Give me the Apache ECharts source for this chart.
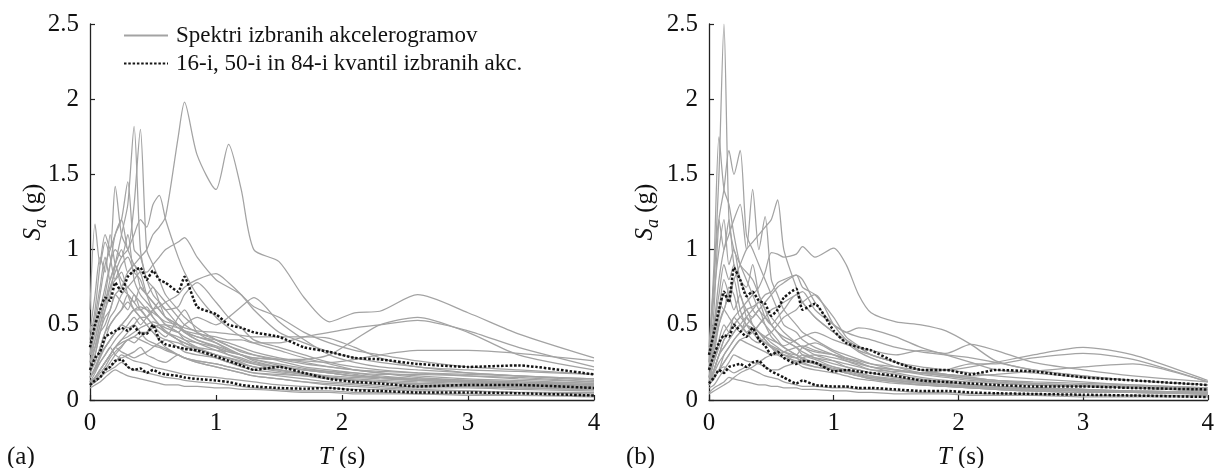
<!DOCTYPE html>
<html><head><meta charset="utf-8">
<script src="https://cdn.jsdelivr.net/npm/echarts@6/dist/echarts.min.js"></script>
<style>html,body{margin:0;padding:0;background:#fff;} #c{width:1217px;height:468px;}</style>
</head><body><div id="c"></div>
<script>
// Period grid (s)
const T = [0,0.04,0.08,0.12,0.16,0.2,0.25,0.3,0.35,0.4,0.45,0.5,0.55,0.6,0.7,0.75,0.85,1.0,1.1,1.2,1.3,1.5,1.7,1.9,2.1,2.3,2.6,3.0,3.4,4.0];
const xTicks = [0,1,2,3,4];
const yTicks = [0,0.5,1,1.5,2,2.5];

// Panel (a) spectra
const a01=[0.30,0.35,0.45,0.50,0.60,0.70,0.75,0.85,0.90,0.95,1.00,1.10,1.15,1.22,1.75,1.98,1.63,1.40,1.70,1.40,1.00,0.92,0.68,0.52,0.58,0.59,0.70,0.58,0.44,0.28];
const a02=[0.25,0.35,0.50,0.60,0.70,0.90,1.10,1.30,1.82,1.00,0.80,0.70,0.65,0.60,0.50,0.45,0.40,0.35,0.30,0.27,0.24,0.20,0.17,0.15,0.13,0.12,0.10,0.09,0.08,0.07];
const a03=[0.30,0.40,0.55,0.70,0.90,1.10,1.20,1.00,1.30,1.80,1.00,0.90,0.80,0.70,0.60,0.55,0.48,0.40,0.36,0.33,0.30,0.26,0.22,0.20,0.18,0.16,0.14,0.12,0.10,0.08];
const a04=[0.40,0.60,0.90,1.10,1.00,1.42,1.10,1.00,0.90,0.85,0.70,0.60,0.55,0.50,0.45,0.40,0.35,0.30,0.28,0.25,0.22,0.20,0.17,0.15,0.13,0.12,0.10,0.09,0.08,0.07];
const a05=[0.20,0.30,0.45,0.60,0.75,0.85,0.95,1.00,1.10,1.20,1.15,1.30,1.36,1.20,0.95,0.85,0.70,0.55,0.48,0.42,0.38,0.33,0.28,0.24,0.20,0.18,0.15,0.13,0.11,0.09];
const a06=[0.60,1.17,0.90,1.05,0.95,0.80,0.85,0.70,0.60,0.55,0.50,0.45,0.40,0.35,0.30,0.28,0.25,0.22,0.20,0.18,0.16,0.14,0.12,0.10,0.09,0.08,0.07,0.06,0.05,0.04];
const a07=[0.20,0.25,0.35,0.45,0.55,0.60,0.70,0.75,0.80,0.85,0.85,0.90,0.95,1.00,1.05,1.08,0.95,0.80,0.75,0.70,0.62,0.55,0.45,0.38,0.33,0.30,0.26,0.22,0.20,0.17];
const a08=[0.15,0.20,0.25,0.30,0.35,0.40,0.45,0.50,0.55,0.50,0.55,0.60,0.62,0.65,0.70,0.75,0.80,0.84,0.78,0.70,0.60,0.45,0.38,0.32,0.28,0.25,0.22,0.18,0.16,0.13];
const a09=[0.12,0.15,0.20,0.25,0.30,0.35,0.40,0.42,0.45,0.48,0.50,0.52,0.50,0.48,0.45,0.50,0.55,0.50,0.55,0.62,0.68,0.52,0.40,0.30,0.25,0.22,0.20,0.18,0.16,0.14];
const a10=[0.10,0.15,0.20,0.25,0.30,0.35,0.38,0.40,0.42,0.45,0.45,0.48,0.50,0.50,0.48,0.46,0.44,0.42,0.40,0.40,0.38,0.38,0.42,0.45,0.48,0.50,0.53,0.46,0.35,0.22];
const a11=[0.15,0.20,0.30,0.35,0.40,0.45,0.50,0.55,0.60,0.60,0.55,0.50,0.48,0.45,0.40,0.38,0.35,0.33,0.32,0.30,0.28,0.27,0.27,0.30,0.40,0.50,0.55,0.45,0.30,0.20];
const a12=[0.10,0.12,0.15,0.20,0.25,0.30,0.35,0.40,0.38,0.42,0.45,0.50,0.48,0.45,0.42,0.40,0.38,0.35,0.32,0.30,0.28,0.27,0.26,0.25,0.27,0.30,0.33,0.33,0.31,0.26];
const a13=[0.15,0.20,0.28,0.35,0.40,0.45,0.50,0.55,0.60,0.62,0.60,0.58,0.55,0.52,0.50,0.48,0.46,0.45,0.44,0.43,0.42,0.42,0.42,0.41,0.35,0.28,0.22,0.20,0.19,0.17];
const a14=[0.30,0.45,0.60,0.75,0.90,1.00,0.95,1.10,0.80,0.70,0.65,0.60,0.55,0.50,0.45,0.42,0.38,0.33,0.30,0.28,0.25,0.22,0.20,0.18,0.16,0.15,0.14,0.13,0.12,0.10];
const a15=[0.25,0.40,0.55,0.65,0.80,0.90,1.00,0.85,0.90,0.75,0.70,0.65,0.60,0.55,0.50,0.45,0.40,0.36,0.33,0.30,0.27,0.24,0.21,0.19,0.17,0.15,0.13,0.12,0.11,0.10];
const a16=[0.10,0.12,0.15,0.18,0.20,0.22,0.25,0.22,0.20,0.19,0.18,0.17,0.16,0.15,0.14,0.13,0.12,0.11,0.10,0.09,0.08,0.07,0.06,0.06,0.05,0.05,0.04,0.04,0.03,0.03];
const a17=[0.08,0.10,0.12,0.15,0.18,0.20,0.18,0.16,0.15,0.14,0.13,0.12,0.11,0.10,0.10,0.09,0.09,0.08,0.08,0.07,0.07,0.06,0.05,0.05,0.04,0.04,0.04,0.03,0.03,0.02];
const a18=[0.15,0.20,0.30,0.35,0.40,0.45,0.50,0.48,0.50,0.45,0.40,0.38,0.36,0.34,0.30,0.28,0.26,0.24,0.22,0.20,0.18,0.16,0.14,0.12,0.11,0.10,0.09,0.09,0.08,0.07];
const a19=[0.12,0.18,0.25,0.30,0.35,0.30,0.28,0.30,0.32,0.35,0.30,0.28,0.26,0.25,0.30,0.28,0.25,0.22,0.20,0.18,0.16,0.14,0.12,0.11,0.10,0.09,0.08,0.08,0.07,0.06];
const a20=[0.20,0.30,0.45,0.55,0.60,0.70,0.65,0.60,0.70,0.60,0.55,0.50,0.45,0.42,0.55,0.60,0.45,0.38,0.33,0.30,0.26,0.22,0.20,0.18,0.16,0.15,0.13,0.12,0.11,0.10];
const a21=[0.10,0.14,0.20,0.25,0.30,0.35,0.32,0.30,0.28,0.30,0.32,0.35,0.38,0.40,0.35,0.32,0.30,0.28,0.25,0.24,0.22,0.20,0.18,0.16,0.15,0.14,0.13,0.12,0.11,0.10];
const a22=[0.18,0.25,0.35,0.45,0.50,0.55,0.60,0.65,0.60,0.55,0.50,0.45,0.42,0.40,0.38,0.36,0.34,0.30,0.28,0.26,0.24,0.22,0.20,0.19,0.18,0.17,0.17,0.16,0.15,0.12];
const a23=[0.35,0.50,0.70,0.90,1.00,1.10,1.20,1.45,1.00,0.95,0.80,0.75,0.70,0.65,0.55,0.50,0.45,0.40,0.36,0.32,0.30,0.27,0.24,0.22,0.20,0.18,0.16,0.14,0.13,0.11];
const a24=[0.12,0.15,0.20,0.25,0.30,0.35,0.40,0.45,0.50,0.55,0.55,0.60,0.65,0.60,0.62,0.70,0.78,0.65,0.55,0.48,0.40,0.35,0.30,0.25,0.22,0.20,0.18,0.16,0.14,0.12];
const a25=[0.10,0.12,0.15,0.20,0.22,0.25,0.30,0.28,0.26,0.25,0.24,0.22,0.21,0.20,0.18,0.17,0.16,0.15,0.14,0.13,0.12,0.10,0.09,0.08,0.07,0.07,0.06,0.06,0.05,0.05];
const a26=[0.45,0.70,0.95,0.85,1.10,0.90,0.80,0.75,0.70,0.65,0.60,0.55,0.50,0.45,0.40,0.36,0.32,0.28,0.25,0.22,0.20,0.18,0.16,0.14,0.13,0.12,0.11,0.10,0.09,0.08];
const a27=[0.20,0.35,0.50,0.65,0.75,0.80,0.90,0.95,0.85,0.80,0.70,0.75,0.65,0.55,0.48,0.45,0.42,0.38,0.34,0.30,0.27,0.23,0.20,0.18,0.16,0.15,0.14,0.13,0.12,0.11];
const a28=[0.15,0.22,0.30,0.40,0.50,0.55,0.60,0.70,0.65,0.75,0.70,0.65,0.60,0.55,0.50,0.46,0.42,0.40,0.38,0.35,0.32,0.28,0.25,0.22,0.20,0.19,0.18,0.17,0.16,0.14];
const a29=[0.10,0.13,0.18,0.22,0.28,0.32,0.36,0.40,0.42,0.40,0.38,0.36,0.35,0.33,0.30,0.28,0.26,0.24,0.22,0.20,0.18,0.17,0.16,0.15,0.14,0.13,0.12,0.11,0.10,0.09];
const a30=[0.30,0.55,0.75,0.95,0.80,0.90,0.75,0.70,0.65,0.60,0.62,0.55,0.50,0.46,0.40,0.38,0.34,0.30,0.27,0.24,0.22,0.19,0.17,0.15,0.13,0.12,0.11,0.10,0.09,0.08];
// Panel (a) quantiles
const q16a=[0.10,0.13,0.15,0.20,0.22,0.26,0.27,0.22,0.20,0.21,0.18,0.20,0.18,0.17,0.16,0.15,0.14,0.13,0.12,0.10,0.09,0.08,0.075,0.08,0.065,0.06,0.05,0.05,0.045,0.03];
const q50a=[0.20,0.28,0.32,0.42,0.44,0.46,0.48,0.46,0.49,0.44,0.44,0.50,0.40,0.37,0.35,0.34,0.33,0.29,0.26,0.23,0.20,0.22,0.18,0.14,0.12,0.11,0.09,0.10,0.10,0.08];
const q84a=[0.35,0.50,0.60,0.68,0.66,0.78,0.72,0.82,0.86,0.88,0.80,0.86,0.80,0.78,0.72,0.82,0.62,0.57,0.50,0.48,0.45,0.42,0.35,0.32,0.28,0.27,0.24,0.22,0.23,0.17];

// Panel (b) spectra
const b01=[0.30,0.80,1.50,2.50,1.20,1.00,0.90,0.80,0.70,0.60,0.55,0.50,0.45,0.40,0.35,0.30,0.27,0.22,0.20,0.18,0.16,0.13,0.11,0.10,0.09,0.08,0.07,0.06,0.05,0.04];
const b02=[0.25,0.90,1.75,1.40,1.30,1.10,0.90,0.85,0.80,0.70,0.60,0.55,0.50,0.45,0.38,0.35,0.30,0.26,0.22,0.20,0.18,0.15,0.12,0.10,0.09,0.08,0.07,0.06,0.05,0.04];
const b03=[0.20,0.60,1.20,1.40,1.66,1.50,1.66,1.10,1.00,0.90,0.80,0.70,0.60,0.50,0.45,0.40,0.35,0.30,0.26,0.23,0.20,0.17,0.14,0.12,0.10,0.09,0.08,0.07,0.06,0.05];
const b04=[0.30,0.50,0.80,1.00,1.10,1.20,1.30,1.00,1.40,1.00,1.22,0.80,0.70,0.60,0.50,0.45,0.40,0.33,0.30,0.27,0.24,0.20,0.17,0.15,0.13,0.12,0.10,0.09,0.08,0.06];
const b05=[0.20,0.35,0.50,0.60,0.70,0.80,0.90,1.00,1.05,1.10,1.15,1.20,1.33,1.00,0.75,0.65,0.55,0.45,0.40,0.35,0.30,0.25,0.20,0.17,0.15,0.13,0.11,0.10,0.09,0.07];
const b06=[0.15,0.25,0.35,0.45,0.50,0.55,0.60,0.65,0.70,0.75,0.85,0.98,0.97,0.95,0.97,1.02,0.95,1.01,0.90,0.70,0.58,0.52,0.50,0.46,0.37,0.26,0.20,0.16,0.13,0.10];
const b07=[0.12,0.20,0.30,0.40,0.45,0.50,0.55,0.60,0.62,0.65,0.70,0.72,0.78,0.80,0.83,0.80,0.65,0.50,0.45,0.42,0.40,0.35,0.32,0.30,0.28,0.25,0.20,0.16,0.13,0.10];
const b08=[0.10,0.15,0.20,0.30,0.35,0.40,0.45,0.50,0.55,0.60,0.65,0.70,0.75,0.78,0.83,0.75,0.70,0.55,0.42,0.36,0.30,0.25,0.20,0.17,0.15,0.13,0.11,0.10,0.09,0.07];
const b09=[0.10,0.15,0.20,0.25,0.30,0.35,0.40,0.38,0.36,0.34,0.32,0.30,0.30,0.32,0.35,0.36,0.33,0.30,0.28,0.26,0.24,0.22,0.20,0.20,0.22,0.25,0.30,0.35,0.30,0.13];
const b10=[0.12,0.18,0.25,0.30,0.35,0.40,0.45,0.50,0.45,0.40,0.38,0.35,0.33,0.30,0.28,0.30,0.28,0.26,0.24,0.22,0.20,0.19,0.18,0.20,0.24,0.24,0.28,0.31,0.27,0.12];
const b11=[0.15,0.20,0.30,0.35,0.40,0.45,0.50,0.55,0.50,0.45,0.42,0.40,0.38,0.36,0.40,0.42,0.45,0.40,0.37,0.35,0.33,0.30,0.33,0.31,0.37,0.33,0.25,0.20,0.16,0.12];
const b12=[0.08,0.10,0.15,0.20,0.25,0.30,0.28,0.26,0.25,0.24,0.22,0.20,0.20,0.22,0.25,0.28,0.30,0.28,0.26,0.24,0.22,0.20,0.18,0.17,0.16,0.17,0.19,0.22,0.24,0.12];
const b13=[0.05,0.08,0.10,0.12,0.15,0.14,0.13,0.12,0.11,0.10,0.10,0.09,0.09,0.08,0.08,0.07,0.07,0.06,0.06,0.05,0.05,0.04,0.04,0.04,0.03,0.03,0.03,0.02,0.02,0.02];
const b14=[0.10,0.15,0.20,0.22,0.20,0.18,0.20,0.22,0.20,0.18,0.16,0.15,0.14,0.12,0.10,0.09,0.09,0.08,0.08,0.07,0.07,0.06,0.05,0.05,0.04,0.04,0.04,0.03,0.03,0.03];
const b15=[0.20,0.40,0.60,0.80,0.70,0.60,0.70,0.55,0.50,0.45,0.40,0.35,0.32,0.30,0.25,0.22,0.20,0.18,0.16,0.14,0.13,0.11,0.10,0.09,0.08,0.07,0.06,0.06,0.05,0.04];
const b16=[0.30,0.70,1.00,1.20,0.90,1.00,0.80,0.75,0.90,0.70,0.60,0.50,0.45,0.40,0.35,0.32,0.28,0.24,0.22,0.20,0.18,0.15,0.13,0.12,0.10,0.09,0.08,0.07,0.06,0.05];
const b17=[0.15,0.30,0.50,0.60,0.55,0.50,0.45,0.55,0.60,0.65,0.55,0.50,0.55,0.60,0.70,0.65,0.55,0.45,0.38,0.32,0.28,0.22,0.18,0.16,0.14,0.12,0.10,0.09,0.08,0.06];
const b18=[0.10,0.20,0.30,0.35,0.40,0.45,0.50,0.45,0.40,0.38,0.42,0.45,0.50,0.55,0.60,0.65,0.70,0.50,0.40,0.33,0.30,0.25,0.22,0.20,0.18,0.16,0.14,0.12,0.10,0.08];
const b19=[0.25,0.50,0.70,0.90,0.80,0.90,0.70,0.60,0.55,0.60,0.50,0.42,0.38,0.35,0.30,0.28,0.25,0.22,0.20,0.18,0.16,0.14,0.12,0.10,0.09,0.08,0.07,0.06,0.05,0.05];
const b20=[0.12,0.20,0.30,0.40,0.45,0.50,0.55,0.50,0.45,0.50,0.55,0.50,0.45,0.42,0.38,0.35,0.32,0.30,0.27,0.25,0.22,0.20,0.18,0.16,0.14,0.13,0.12,0.11,0.10,0.08];
const b21=[0.04,0.06,0.08,0.10,0.12,0.15,0.18,0.20,0.22,0.25,0.28,0.30,0.32,0.30,0.28,0.25,0.22,0.20,0.18,0.16,0.14,0.12,0.10,0.09,0.08,0.07,0.06,0.05,0.05,0.04];
const b22=[0.15,0.35,0.55,0.70,0.65,0.80,0.60,0.50,0.48,0.45,0.40,0.36,0.34,0.32,0.30,0.35,0.38,0.32,0.28,0.25,0.22,0.18,0.15,0.13,0.12,0.11,0.10,0.09,0.08,0.07];
const b23=[0.35,0.80,1.20,1.00,1.20,0.90,0.80,0.70,0.60,0.55,0.50,0.45,0.40,0.35,0.30,0.27,0.24,0.20,0.18,0.16,0.14,0.12,0.10,0.09,0.08,0.07,0.06,0.05,0.05,0.04];
const b24=[0.10,0.14,0.20,0.25,0.30,0.35,0.40,0.42,0.45,0.50,0.55,0.60,0.62,0.65,0.70,0.72,0.60,0.50,0.45,0.48,0.47,0.42,0.35,0.30,0.25,0.20,0.18,0.15,0.13,0.10];
const b25=[0.20,0.45,0.65,0.60,0.75,0.70,0.55,0.60,0.50,0.45,0.42,0.38,0.35,0.32,0.28,0.26,0.24,0.21,0.19,0.17,0.15,0.13,0.11,0.10,0.09,0.08,0.07,0.06,0.05,0.05];
const b26=[0.12,0.25,0.40,0.50,0.45,0.55,0.50,0.45,0.48,0.42,0.38,0.35,0.30,0.28,0.26,0.24,0.22,0.20,0.18,0.16,0.15,0.13,0.12,0.11,0.10,0.09,0.08,0.07,0.06,0.05];
// Panel (b) quantiles
const q16b=[0.11,0.15,0.20,0.18,0.22,0.23,0.24,0.22,0.25,0.26,0.22,0.19,0.17,0.15,0.11,0.13,0.10,0.09,0.09,0.08,0.08,0.07,0.06,0.06,0.05,0.045,0.04,0.035,0.03,0.02];
const q50b=[0.20,0.30,0.38,0.43,0.42,0.50,0.46,0.42,0.48,0.40,0.36,0.30,0.32,0.28,0.24,0.26,0.25,0.19,0.20,0.19,0.18,0.16,0.13,0.12,0.11,0.10,0.09,0.09,0.08,0.07];
const q84b=[0.30,0.45,0.60,0.72,0.65,0.88,0.80,0.69,0.72,0.66,0.64,0.56,0.60,0.68,0.74,0.60,0.64,0.46,0.38,0.35,0.33,0.25,0.20,0.20,0.17,0.20,0.19,0.15,0.13,0.10];

const spectraA=[a01,a02,a03,a04,a05,a06,a07,a08,a09,a10,a11,a12,a13,a14,a15,a16,a17,a18,a19,a20,a21,a22,a23,a24,a25,a26,a27,a28,a29,a30];
const quantA=[q16a,q50a,q84a];
const spectraB=[b01,b02,b03,b04,b05,b06,b07,b08,b09,b10,b11,b12,b13,b14,b15,b16,b17,b18,b19,b20,b21,b22,b23,b24,b25,b26];
const quantB=[q16b,q50b,q84b];

const NAME_S='Spektri izbranih akcelerogramov';
const NAME_Q='16-i, 50-i in 84-i kvantil izbranih akc.';
const FONT="'Liberation Serif','Times New Roman',serif";
const GREY='#a3a3a3';

function pairs(v){return T.map((t,i)=>[t,v[i]]);}
const series=[];
[[spectraA,0],[spectraB,1]].forEach(([set,g])=>{
  set.forEach(v=>series.push({type:'line',name:NAME_S,xAxisIndex:g,yAxisIndex:g,data:pairs(v),
    symbol:'none',smooth:0.25,silent:true,lineStyle:{color:GREY,width:1.25},itemStyle:{color:GREY},z:2}));
});
[[quantA,0],[quantB,1]].forEach(([set,g])=>{
  set.forEach(v=>series.push({type:'line',name:NAME_Q,xAxisIndex:g,yAxisIndex:g,data:pairs(v),
    symbol:'none',smooth:0.15,silent:true,lineStyle:{color:'#151515',width:2.5,type:[2.5,1.8]},itemStyle:{color:'#151515'},z:5}));
});

function xAx(g){return {gridIndex:g,type:'value',min:xTicks[0],max:xTicks[xTicks.length-1],interval:1,
  axisLine:{show:true,lineStyle:{color:'#222',width:1.3}},
  axisTick:{show:true,inside:true,length:5,lineStyle:{color:'#222',width:1.2}},
  axisLabel:{fontFamily:FONT,fontSize:25,color:'#111',margin:11},splitLine:{show:false}};}
function yAx(g){return {gridIndex:g,type:'value',min:yTicks[0],max:yTicks[yTicks.length-1],interval:0.5,
  axisLine:{show:true,lineStyle:{color:'#222',width:1.3}},
  axisTick:{show:true,inside:true,length:5,lineStyle:{color:'#222',width:1.2}},
  axisLabel:{fontFamily:FONT,fontSize:25,color:'#111',margin:11},splitLine:{show:false}};}

function ylabel(cx){return {type:'text',x:cx,y:212,rotation:Math.PI/2,
  style:{text:'{i|S}{s|a}{n| (g)}',align:'center',verticalAlign:'middle',fill:'#111',
   rich:{i:{fontFamily:FONT,fontSize:25,fontStyle:'italic',lineHeight:25},
         s:{fontFamily:FONT,fontSize:18,fontStyle:'italic',lineHeight:34,verticalAlign:'bottom'},
         n:{fontFamily:FONT,fontSize:25,lineHeight:25}}}};}
function xlabel(cx){return {type:'text',x:cx,y:457,
  style:{text:'{i|T}{n| (s)}',align:'center',verticalAlign:'middle',fill:'#111',
   rich:{i:{fontFamily:FONT,fontSize:25,fontStyle:'italic'},n:{fontFamily:FONT,fontSize:25}}}};}
function plabel(x,t){return {type:'text',x:x,y:457,style:{text:t,align:'left',verticalAlign:'middle',fill:'#111',fontFamily:FONT,fontSize:25}};}

const chart=echarts.init(document.getElementById('c'),null,{renderer:'canvas'});
chart.setOption({
  animation:false,
  backgroundColor:'#fff',
  grid:[{left:90,top:24,width:504,height:376},{left:709,top:24,width:504,height:376}],
  xAxis:[xAx(0),xAx(1)],
  yAxis:[yAx(0),yAx(1)],
  legend:{data:[NAME_S,NAME_Q],orient:'vertical',left:118,top:19,itemWidth:44,itemHeight:14,itemGap:5,
    itemStyle:{opacity:0},
    textStyle:{fontFamily:FONT,fontSize:23,color:'#111',padding:[0,0,0,3]},selectedMode:false},
  graphic:[ylabel(33),ylabel(645),xlabel(342),xlabel(961),plabel(7,'(a)'),plabel(626,'(b)')],
  series:series
});
</script></body></html>
